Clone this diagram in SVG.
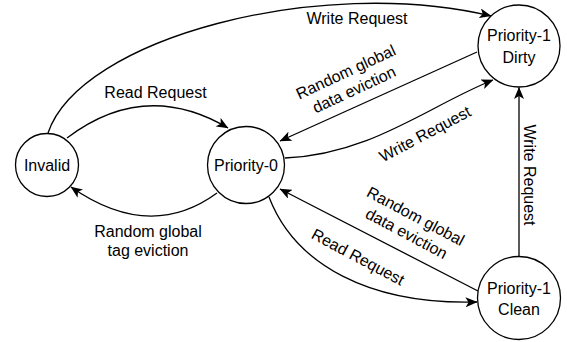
<svg xmlns="http://www.w3.org/2000/svg" width="567" height="342" viewBox="0 0 567 342">
<style>
.node{fill:#fff;stroke:#000;stroke-width:1.3}
.edge{fill:none;stroke:#000;stroke-width:1.3;marker-end:url(#arr)}
text{font-family:"Liberation Sans",Arial,Helvetica,sans-serif;font-size:16px;fill:#000;text-anchor:middle}
</style>
<defs>
<marker id="arr" markerUnits="userSpaceOnUse" viewBox="0 0 12 10" refX="11.5" refY="5" markerWidth="12" markerHeight="10" orient="auto">
<path d="M0,0 L12,5 L0,10 L3,5 Z" fill="#000"/>
</marker>
</defs>
<rect width="567" height="342" fill="#fff"/>
<g id="connectors">
<path class="edge" d="M48,133 C80,38 320,-25 491,16"/>
<text x="357" y="24">Write Request</text>
<path class="edge" d="M67,138 Q145,79 228,128"/>
<text x="155.5" y="98">Read Request</text>
<path class="edge" d="M217,193 Q150,242 71,187"/>
<text x="148" y="236.5">Random global</text>
<text x="148" y="256">tag eviction</text>
<path class="edge" d="M477,52 L280,141"/>
<g transform="translate(350,81) rotate(-25)">
<text x="0" y="-4.5">Random global</text>
<text x="0" y="15">data eviction</text>
</g>
<path class="edge" d="M285,158 C370,155 430,105 493,80"/>
<text transform="translate(425,134) rotate(-28)" x="0" y="5.5">Write Request</text>
<path class="edge" d="M478,291 L280,189"/>
<g transform="translate(411,225) rotate(28)">
<text x="0" y="-4.5">Random global</text>
<text x="0" y="15">data eviction</text>
</g>
<path class="edge" d="M269,197 C295,265 370,305 477,302"/>
<text transform="translate(358,257) rotate(28)" x="0" y="5.5">Read Request</text>
<path class="edge" d="M519,256.5 L519,87.5"/>
<text transform="translate(524,175) rotate(90)" x="0" y="0">Write Request</text>
</g>
<g id="invalid">
<circle class="node" cx="47" cy="165" r="31.5"/>
<text x="47" y="170.5">Invalid</text>
</g>
<g id="priority0">
<circle class="node" cx="246" cy="165" r="38.5"/>
<text x="246" y="170.5">Priority-0</text>
</g>
<g id="priority1dirty">
<circle class="node" cx="519" cy="46" r="41"/>
<text x="519" y="41">Priority-1</text>
<text x="519" y="63">Dirty</text>
</g>
<g id="priority1clean">
<circle class="node" cx="519" cy="298" r="41.5"/>
<text x="519" y="294">Priority-1</text>
<text x="519" y="315">Clean</text>
</g>
</svg>
